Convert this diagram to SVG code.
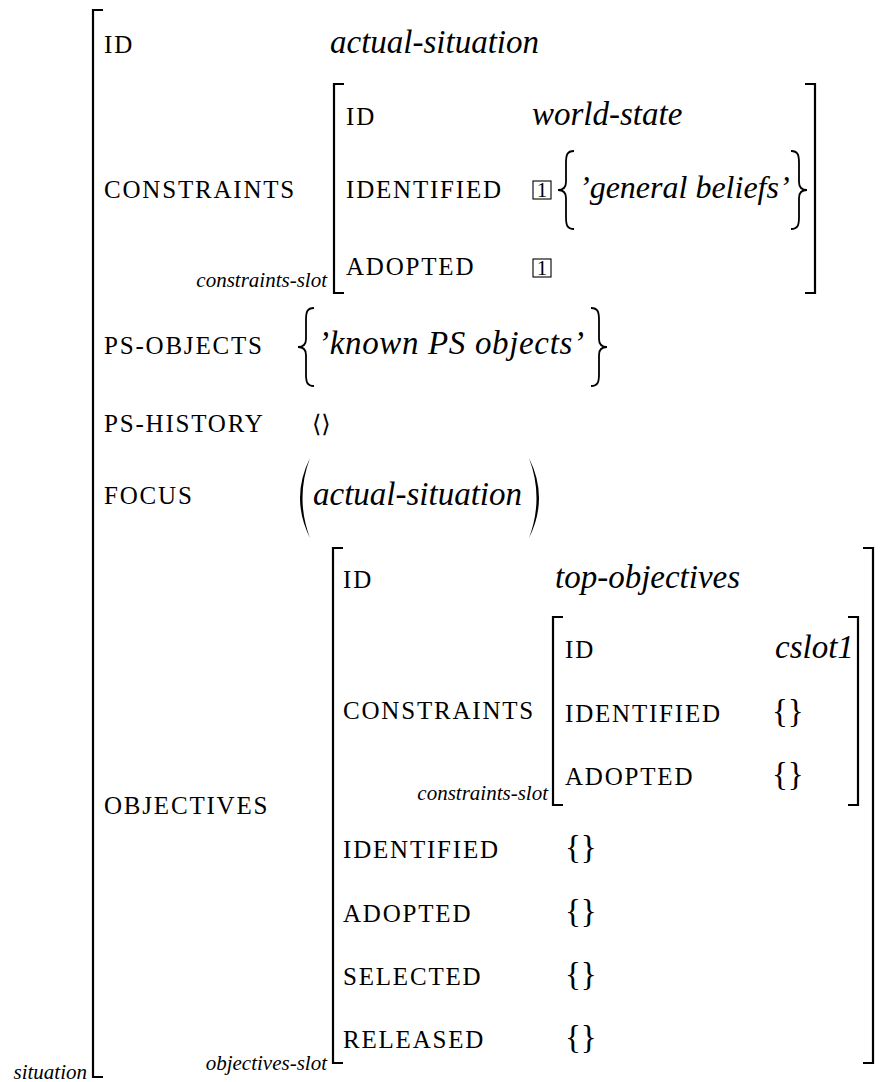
<svg xmlns="http://www.w3.org/2000/svg" width="880" height="1082" viewBox="0 0 880 1082">
<style>
.f{font-family:"Liberation Serif","Times New Roman","DejaVu Serif",serif;font-size:25px;letter-spacing:1.8px;fill:#000}
.v{font-family:"Liberation Serif","Times New Roman","DejaVu Serif",serif;font-style:italic;font-size:33px;fill:#000}
.t{font-family:"Liberation Serif","Times New Roman","DejaVu Serif",serif;font-style:italic;font-size:21px;fill:#000}
.r{font-family:"Liberation Serif","Times New Roman","DejaVu Serif",serif;font-size:33px;fill:#000}
.n{font-family:"Liberation Serif","Times New Roman","DejaVu Serif",serif;font-size:21px;fill:#000}
.a{font-family:"DejaVu Serif","DejaVu Sans",serif;font-size:24px;fill:#000}
.br{fill:none;stroke:#000;stroke-width:2.2}
.dl{fill:none;stroke:#000;stroke-width:1.8}
.bx{fill:none;stroke:#000;stroke-width:1.1}
</style>
<rect width="880" height="1082" fill="#fff"/>
<g id="situation">
  <path class="br" d="M103,10 H93 V1077 H103"/>
  <text class="t" x="87" y="1079" text-anchor="end">situation</text>
  <text class="f" x="104" y="53">ID</text>
  <text class="v" x="330" y="53">actual-situation</text>
  <text class="f" x="104" y="198">CONSTRAINTS</text>
  <text class="f" x="104" y="354">PS-OBJECTS</text>
  <path class="dl" d="M314,308 C307,308 306,312 306,320 V339 C306,344 304,347 298,347 C304,347 306,350 306,355 V374 C306,382 307,386 314,386"/>
  <text class="v" x="318" y="354" textLength="266" lengthAdjust="spacing">’known PS objects’</text>
  <path class="dl" d="M591,308 C598,308 599,312 599,320 V339 C599,344 601,347 607,347 C601,347 599,350 599,355 V374 C599,382 598,386 591,386"/>
  <text class="f" x="104" y="432">PS-HISTORY</text>
  <text class="a" x="312" y="432">⟨⟩</text>
  <text class="f" x="104" y="504">FOCUS</text>
  <path fill="#000" d="M310,458 Q290,498 310,538 Q295,498 310,458 Z"/>
  <text class="v" x="313" y="505">actual-situation</text>
  <path fill="#000" d="M529,458 Q549,498 529,538 Q544,498 529,458 Z"/>
  <text class="f" x="104" y="814">OBJECTIVES</text>
</g>
<g id="constraints-slot-1">
  <path class="br" d="M344,84 H334 V293 H344"/>
  <path class="br" d="M805,84 H815 V293 H805"/>
  <text class="t" x="327" y="287" text-anchor="end">constraints-slot</text>
  <text class="f" x="346" y="125">ID</text>
  <text class="v" x="532" y="125">world-state</text>
  <text class="f" x="346" y="198">IDENTIFIED</text>
  <rect class="bx" x="533" y="181" width="18" height="18"/>
  <text class="n" x="542" y="197" text-anchor="middle">1</text>
  <path class="dl" d="M574,151 C567,151 566,155 566,163 V182 C566,187 564,190 558,190 C564,190 566,193 566,198 V217 C566,225 567,229 574,229"/>
  <text class="v" x="579" y="198" style="font-size:32px">’general beliefs’</text>
  <path class="dl" d="M791,151 C798,151 799,155 799,163 V182 C799,187 801,190 807,190 C801,190 799,193 799,198 V217 C799,225 798,229 791,229"/>
  <text class="f" x="346" y="275">ADOPTED</text>
  <rect class="bx" x="533" y="259" width="18" height="18"/>
  <text class="n" x="542" y="275" text-anchor="middle">1</text>
</g>
<g id="objectives-slot">
  <path class="br" d="M343,548 H333 V1063 H343"/>
  <path class="br" d="M863,548 H873 V1063 H863"/>
  <text class="t" x="327" y="1070" text-anchor="end">objectives-slot</text>
  <text class="f" x="343" y="588">ID</text>
  <text class="v" x="555" y="588">top-objectives</text>
  <text class="f" x="343" y="719">CONSTRAINTS</text>
  <text class="f" x="343" y="858">IDENTIFIED</text>
  <text class="r" x="565" y="858">{}</text>
  <text class="f" x="343" y="922">ADOPTED</text>
  <text class="r" x="565" y="922">{}</text>
  <text class="f" x="343" y="985">SELECTED</text>
  <text class="r" x="565" y="985">{}</text>
  <text class="f" x="343" y="1048">RELEASED</text>
  <text class="r" x="565" y="1048">{}</text>
</g>
<g id="constraints-slot-2">
  <path class="br" d="M563,617 H553 V805 H563"/>
  <path class="br" d="M848,617 H858 V805 H848"/>
  <text class="t" x="548" y="800" text-anchor="end">constraints-slot</text>
  <text class="f" x="565" y="658">ID</text>
  <text class="v" x="775" y="658">cslot1</text>
  <text class="f" x="565" y="722">IDENTIFIED</text>
  <text class="r" x="772" y="722">{}</text>
  <text class="f" x="565" y="785">ADOPTED</text>
  <text class="r" x="772" y="785">{}</text>
</g>
<g id="connectors"></g>
</svg>
